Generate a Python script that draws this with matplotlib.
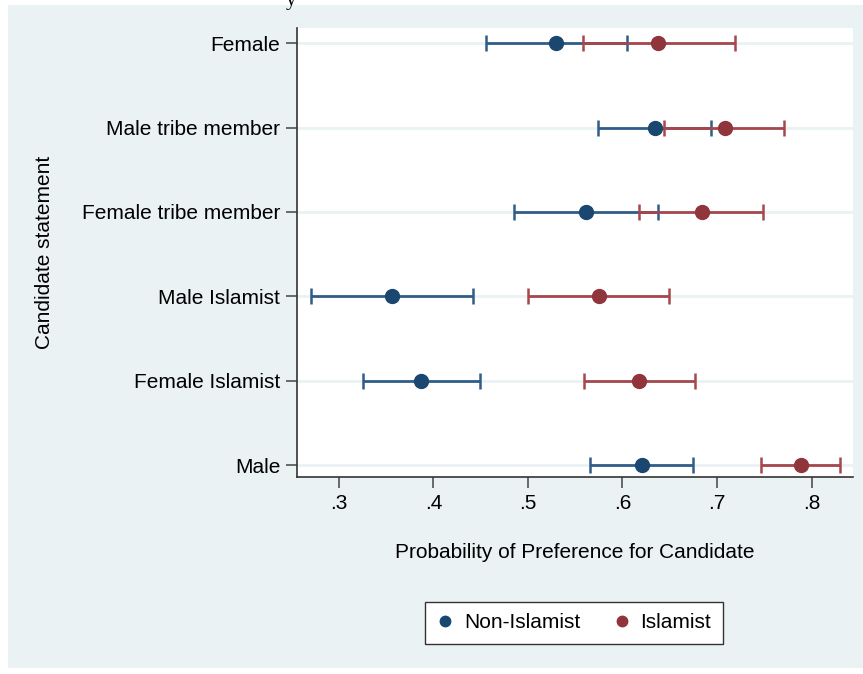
import matplotlib
matplotlib.use("Agg")
import matplotlib.pyplot as plt
from matplotlib.patches import Rectangle
import numpy as np

plt.rcParams['font.family'] = ['Liberation Sans', 'DejaVu Sans']

# Candidate statements, listed top to bottom
categories = ["Female", "Male tribe member", "Female tribe member",
              "Male Islamist", "Female Islamist", "Male"]

# Non-Islamist respondents: point estimate and 95% CI
non_est = [0.530, 0.634, 0.561, 0.356, 0.387, 0.621]
non_lo = [0.456, 0.574, 0.485, 0.271, 0.326, 0.566]
non_hi = [0.605, 0.694, 0.638, 0.442, 0.449, 0.675]

# Islamist respondents: point estimate and 95% CI
isl_est = [0.638, 0.708, 0.684, 0.575, 0.618, 0.789]
isl_lo = [0.558, 0.644, 0.618, 0.500, 0.559, 0.747]
isl_hi = [0.719, 0.771, 0.749, 0.649, 0.677, 0.830]

xticks = [0.3, 0.4, 0.5, 0.6, 0.7, 0.8]
xtick_labels = [".3", ".4", ".5", ".6", ".7", ".8"]

BG = "#eaf2f3"
BLUE = "#1a476f"
BLUE_LINE = "#2f5d88"
RED = "#90353b"
RED_LINE = "#a6464d"
FS = 15

fig = plt.figure(figsize=(8.63, 6.74), dpi=100)
fig.patch.set_facecolor("white")
fig.patches.append(Rectangle((8 / 863, 6 / 674), 1 - 8 / 863, 1 - 11 / 674,
                             transform=fig.transFigure, facecolor=BG,
                             edgecolor="none", zorder=-5))

ax = fig.add_axes([297 / 863, 1 - 477 / 674, (853 - 297) / 863, (477 - 28) / 674])
ax.set_facecolor("white")

ypos = np.arange(len(categories))[::-1]

for y in ypos:
    ax.axhline(y, color=BG, lw=2.0, zorder=1)

ne = np.array(non_est)
ie = np.array(isl_est)
ax.errorbar(ne, ypos, xerr=[ne - np.array(non_lo), np.array(non_hi) - ne],
            fmt="none", ecolor=BLUE_LINE, elinewidth=2.0, capsize=5.5,
            capthick=1.8, zorder=2)
ax.errorbar(ie, ypos, xerr=[ie - np.array(isl_lo), np.array(isl_hi) - ie],
            fmt="none", ecolor=RED_LINE, elinewidth=2.0, capsize=5.5,
            capthick=1.8, zorder=3)
ax.plot(ne, ypos, "o", color=BLUE, ms=10, mec=BLUE, zorder=4, label="Non-Islamist")
ax.plot(ie, ypos, "o", color=RED, ms=10, mec=RED, zorder=5, label="Islamist")

ax.set_xlim(0.2558, 0.8438)
ax.set_ylim(-0.14, 5.18)
ax.set_xticks(xticks)
ax.set_xticklabels(xtick_labels, fontsize=FS)
ax.set_yticks(ypos)
ax.set_yticklabels(categories, fontsize=FS)
ax.tick_params(axis="both", length=8, width=1.1, color="#444444", pad=4)

for s in ["top", "right"]:
    ax.spines[s].set_visible(False)
for s in ["left", "bottom"]:
    ax.spines[s].set_color("#333333")
    ax.spines[s].set_linewidth(1.2)

ax.set_xlabel("Probability of Preference for Candidate", fontsize=FS, labelpad=22)
ax.set_ylabel("Candidate statement", fontsize=FS, labelpad=20)

leg = fig.legend(loc="center", bbox_to_anchor=(574 / 863, 1 - 623 / 674),
                 ncol=2, fontsize=FS, frameon=True, fancybox=False,
                 markerscale=0.75, handlelength=0.8, handletextpad=0.5,
                 columnspacing=1.6, borderpad=0.55, framealpha=1)
leg.get_frame().set_facecolor("white")
leg.get_frame().set_edgecolor("#333333")
leg.get_frame().set_linewidth(1.0)

fig.text(291 / 863, 1.0, "y", fontsize=FS, ha="center", va="center",
         fontfamily="Liberation Serif")

fig.savefig("out.png", dpi=100, facecolor=fig.get_facecolor())
